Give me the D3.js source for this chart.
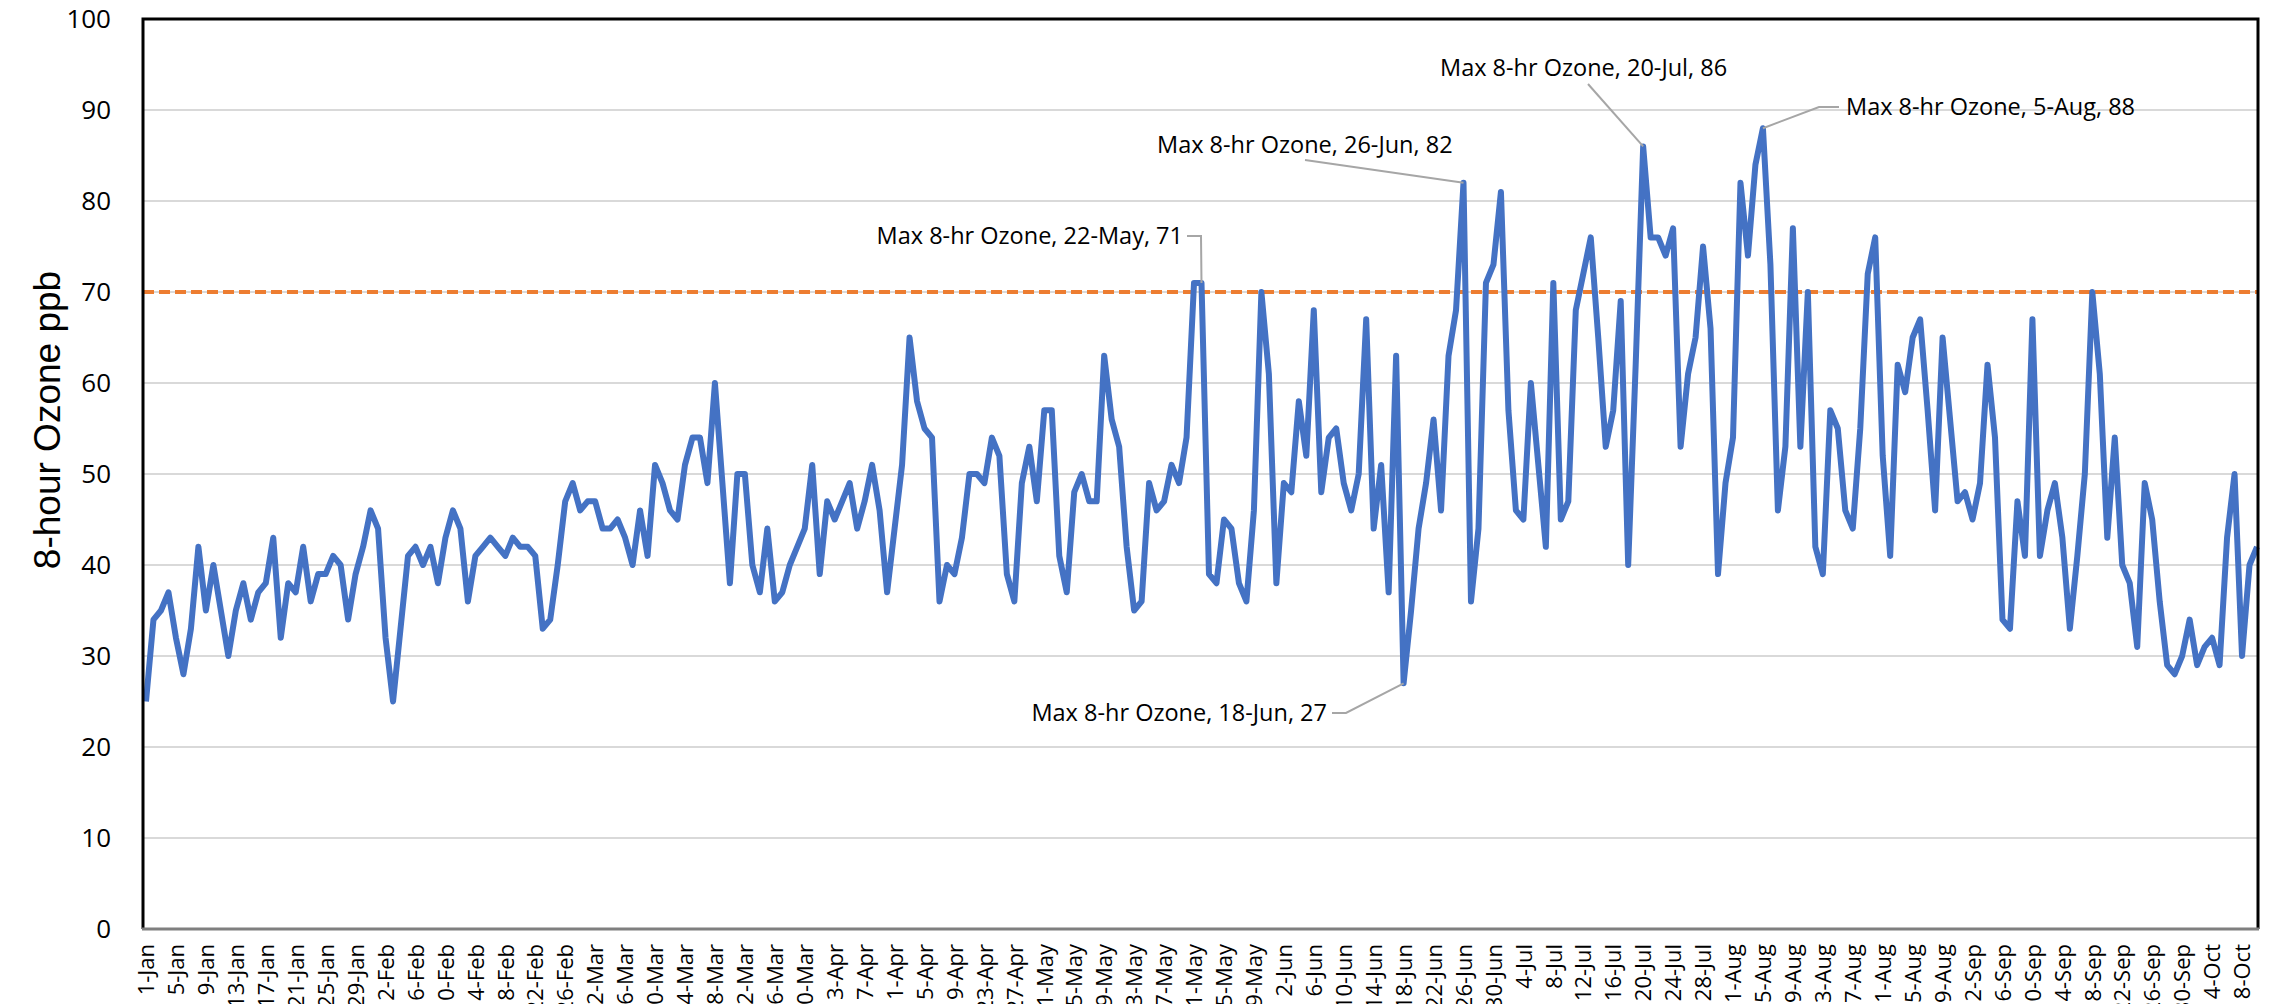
<!DOCTYPE html>
<html>
<head>
<meta charset="utf-8">
<script src="https://cdn.jsdelivr.net/npm/d3@7"></script>
<style>
  body { margin: 0; background: #fff; }
  svg { display: block; }
</style>
</head>
<body>
<div id="chart"></div>
<script>
// Daily max 8-hour ozone, 1-Jan .. 10-Oct (one value per day)
let ozone = [
  25, 34, 35, 37, 32, 28, 33, 42, 35, 40,
  35, 30, 35, 38, 34, 37, 38, 43, 32, 38,
  37, 42, 36, 39, 39, 41, 40, 34, 39, 42,
  46, 44, 32, 25, 33, 41, 42, 40, 42, 38,
  43, 46, 44, 36, 41, 42, 43, 42, 41, 43,
  42, 42, 41, 33, 34, 40, 47, 49, 46, 47,
  47, 44, 44, 45, 43, 40, 46, 41, 51, 49,
  46, 45, 51, 54, 54, 49, 60, 49, 38, 50,
  50, 40, 37, 44, 36, 37, 40, 42, 44, 51,
  39, 47, 45, 47, 49, 44, 47, 51, 46, 37,
  44, 51, 65, 58, 55, 54, 36, 40, 39, 43,
  50, 50, 49, 54, 52, 39, 36, 49, 53, 47,
  57, 57, 41, 37, 48, 50, 47, 47, 63, 56,
  53, 42, 35, 36, 49, 46, 47, 51, 49, 54,
  71, 71, 39, 38, 45, 44, 38, 36, 46, 70,
  61, 38, 49, 48, 58, 52, 68, 48, 54, 55,
  49, 46, 50, 67, 44, 51, 37, 63, 27, 35,
  44, 49, 56, 46, 63, 68, 82, 36, 44, 71,
  73, 81, 57, 46, 45, 60, 51, 42, 71, 45,
  47, 68, 72, 76, 65, 53, 57, 69, 40, 62,
  86, 76, 76, 74, 77, 53, 61, 65, 75, 66,
  39, 49, 54, 82, 74, 84, 88, 73, 46, 53,
  77, 53, 70, 42, 39, 57, 55, 46, 44, 55,
  72, 76, 52, 41, 62, 59, 65, 67, 57, 46,
  65, 56, 47, 48, 45, 49, 62, 54, 34, 33,
  47, 41, 67, 41, 46, 49, 43, 33, 41, 50,
  70, 61, 43, 54, 40, 38, 31, 49, 45, 36,
  29, 28, 30, 34, 29, 31, 32, 29, 43, 50,
  30, 40, 42
];

// category labels shown every 4th day
let tickLabels = [
  '1-Jan','5-Jan','9-Jan','13-Jan','17-Jan','21-Jan','25-Jan','29-Jan',
  '2-Feb','6-Feb','10-Feb','14-Feb','18-Feb','22-Feb','26-Feb',
  '2-Mar','6-Mar','10-Mar','14-Mar','18-Mar','22-Mar','26-Mar','30-Mar',
  '3-Apr','7-Apr','11-Apr','15-Apr','19-Apr','23-Apr','27-Apr',
  '1-May','5-May','9-May','13-May','17-May','21-May','25-May','29-May',
  '2-Jun','6-Jun','10-Jun','14-Jun','18-Jun','22-Jun','26-Jun','30-Jun',
  '4-Jul','8-Jul','12-Jul','16-Jul','20-Jul','24-Jul','28-Jul',
  '1-Aug','5-Aug','9-Aug','13-Aug','17-Aug','21-Aug','25-Aug','29-Aug',
  '2-Sep','6-Sep','10-Sep','14-Sep','18-Sep','22-Sep','26-Sep','30-Sep',
  '4-Oct','8-Oct'
];
let tickStep = 4;

let yTicks = [0, 10, 20, 30, 40, 50, 60, 70, 80, 90, 100];
let standard = 70;

// labelled points: day index + date text
let callouts = [
  {day: 141, date: '22-May'},
  {day: 176, date: '26-Jun'},
  {day: 168, date: '18-Jun'},
  {day: 200, date: '20-Jul'},
  {day: 216, date: '5-Aug'}
];

// Layout
let W = 2274, H = 1004;
let plot = {left: 143, right: 2258, top: 19, bottom: 929};

let svg = d3.select('#chart').append('svg')
  .attr('width', W)
  .attr('height', H);

let xScale = d3.scaleLinear().domain([0, ozone.length - 1]).range([146, 2257]);
let yScale = d3.scaleLinear().domain([0, 100]).range([plot.bottom, plot.top]);

// gridlines
svg.append('g')
  .selectAll('line')
  .data(yTicks)
  .enter().append('line')
  .attr('x1', plot.left).attr('x2', plot.right)
  .attr('y1', d => yScale(d)).attr('y2', d => yScale(d))
  .attr('stroke', '#d9d9d9')
  .attr('stroke-width', 2);

// y axis labels
let yAxis = d3.axisLeft(yScale).tickValues(yTicks).tickSize(0).tickPadding(32);
svg.append('g')
  .attr('transform', 'translate(' + plot.left + ',0)')
  .call(yAxis)
  .call(g => g.select('.domain').remove())
  .selectAll('text')
  .attr('font-family', 'Open Sans, sans-serif')
  .attr('font-size', '26px')
  .attr('fill', '#000');

// x axis labels (rotated)
let xAxis = d3.axisBottom(xScale)
  .tickValues(d3.range(0, tickLabels.length * tickStep, tickStep))
  .tickFormat((d, i) => tickLabels[i])
  .tickSize(0);
svg.append('g')
  .attr('transform', 'translate(0,' + plot.bottom + ')')
  .call(xAxis)
  .call(g => g.select('.domain').remove())
  .selectAll('text')
  .attr('font-family', 'Open Sans, sans-serif')
  .attr('font-size', '22px')
  .attr('fill', '#000')
  .attr('text-anchor', 'end')
  .attr('dy', '0.35em')
  .attr('transform', 'translate(0,15) rotate(-90)')
  .attr('x', 0).attr('y', 0);

// y axis title
svg.append('text')
  .attr('transform', 'translate(60,420) rotate(-90)')
  .attr('text-anchor', 'middle')
  .attr('font-family', 'Liberation Sans Narrow, Arial Narrow, sans-serif')
  .attr('font-size', '37px')
  .attr('fill', '#000')
  .text('8-hour Ozone ppb');

// 70 ppb standard
svg.append('line')
  .attr('x1', plot.left).attr('x2', plot.right)
  .attr('y1', yScale(standard)).attr('y2', yScale(standard))
  .attr('stroke', '#ed7d31')
  .attr('stroke-width', 4)
  .attr('stroke-dasharray', '11,5');

// ozone line
let line = d3.line()
  .x((d, i) => xScale(i))
  .y(d => yScale(d));
svg.append('path')
  .datum(ozone)
  .attr('d', line)
  .attr('fill', 'none')
  .attr('stroke', '#4472c4')
  .attr('stroke-width', 6)
  .attr('stroke-linejoin', 'round');

// frame
svg.append('path')
  .attr('d', 'M' + plot.left + ',' + plot.bottom + 'V' + plot.top + 'H' + plot.right + 'V' + plot.bottom)
  .attr('fill', 'none')
  .attr('stroke', '#000')
  .attr('stroke-width', 3);
svg.append('line')
  .attr('x1', plot.left - 1).attr('x2', plot.right + 1)
  .attr('y1', plot.bottom).attr('y2', plot.bottom)
  .attr('stroke', '#7f7f7f')
  .attr('stroke-width', 3);

// callouts: text position relative to the point, and leader path
let calloutLayout = {
  141: {tx: 1183, ty: 236, anchor: 'end', path: [[1187, 236], [1201, 236]]},
  176: {tx: 1157, ty: 145, anchor: 'start', path: [[1305, 160]]},
  168: {tx: 1327, ty: 713, anchor: 'end', path: [[1332, 713], [1346, 713]]},
  200: {tx: 1440, ty: 68, anchor: 'start', path: [[1588, 84]]},
  216: {tx: 1846, ty: 107, anchor: 'start', path: [[1839, 107], [1819, 107]]}
};

callouts.forEach(function(c) {
  let v = ozone[c.day];
  let lay = calloutLayout[c.day];
  let pts = lay.path.concat([[xScale(c.day), yScale(v)]]);
  svg.append('path')
    .attr('d', d3.line()(pts))
    .attr('fill', 'none')
    .attr('stroke', '#a6a6a6')
    .attr('stroke-width', 2);
  svg.append('text')
    .attr('x', lay.tx).attr('y', lay.ty)
    .attr('dy', '0.35em')
    .attr('text-anchor', lay.anchor)
    .attr('font-family', 'Open Sans, sans-serif')
    .attr('font-size', '23.5px')
    .attr('fill', '#000')
    .text('Max 8-hr Ozone, ' + c.date + ', ' + v);
});
</script>
</body>
</html>
